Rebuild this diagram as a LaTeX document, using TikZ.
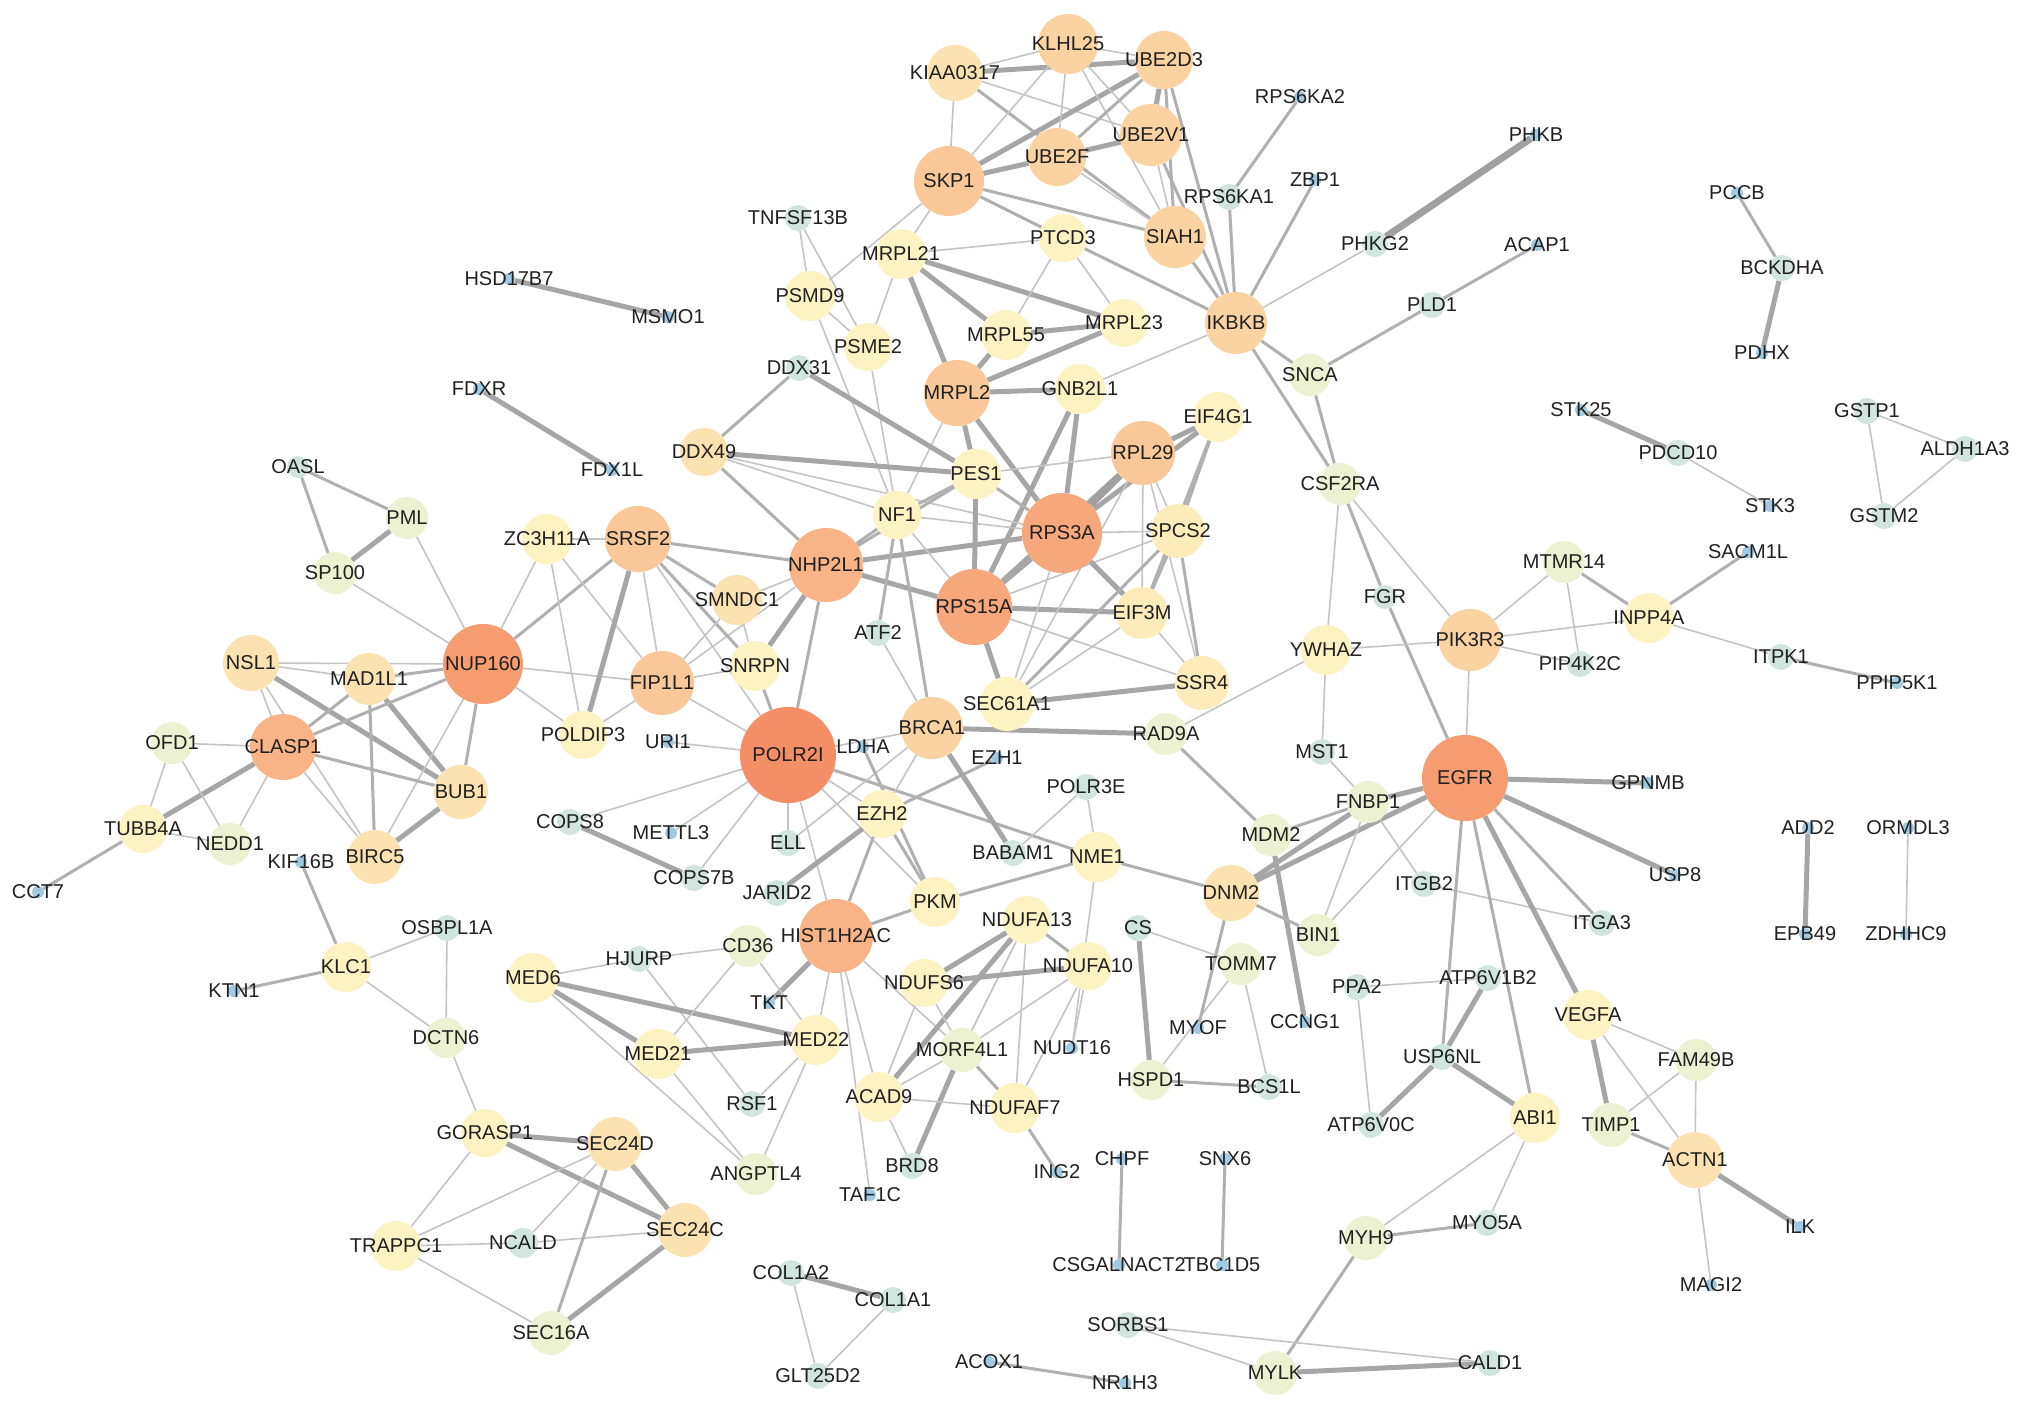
\documentclass[tikz,border=0pt]{standalone}
\usepackage{fontspec}
\setmainfont{Liberation Sans}
\pgfdeclarelayer{bglayer}
\pgfdeclarelayer{edgelayer}
\pgfsetlayers{bglayer,edgelayer,main}
\definecolor{co1}{RGB}{244,142,102}
\definecolor{co1b}{RGB}{245,156,113}
\definecolor{co2}{RGB}{246,168,124}
\definecolor{co3}{RGB}{248,180,134}
\definecolor{co4}{RGB}{250,199,152}
\definecolor{co5}{RGB}{251,210,162}
\definecolor{co6}{RGB}{252,226,176}
\definecolor{co6b}{RGB}{253,235,186}
\definecolor{co7}{RGB}{253,242,194}
\definecolor{co8}{RGB}{236,242,209}
\definecolor{co9}{RGB}{208,229,222}
\definecolor{co10}{RGB}{160,202,226}
\definecolor{labc}{RGB}{32,32,32}
\definecolor{eA}{RGB}{196,196,196}
\definecolor{eB}{RGB}{176,176,176}
\definecolor{eC}{RGB}{166,166,166}
\definecolor{eD}{RGB}{160,160,160}
\tikzset{
  gnode/.style={circle, draw=none, inner sep=0pt},
  glab/.style={font=\fontsize{20}{22}\selectfont, text=labc, inner sep=0pt},
  ea/.style={line width=1.6pt, draw=eA},
  eb/.style={line width=3pt, draw=eB},
  ec/.style={line width=5pt, draw=eC},
  ed/.style={line width=7pt, draw=eD},
}
\newcommand\GN[5]{}
\newcommand\drawgnode[5]{\node[gnode, fill=#5, minimum size=#4*2pt] (#1) at (#2,#3) {};}
\newcommand\drawglabel[5]{\node[glab] (#1-l) at (#1) {#1};}
\newcommand\GE[3]{\draw[#3] (#1) -- (#2);}
\newcommand\nodelist{%
\GN{POLR2I}{788}{755}{48}{co1}
\GN{EGFR}{1465}{778}{43}{co1b}
\GN{NUP160}{483}{664}{40}{co1b}
\GN{RPS3A}{1062}{533}{40}{co2}
\GN{RPS15A}{974}{607}{38}{co2}
\GN{NHP2L1}{826}{565}{37}{co3}
\GN{HIST1H2AC}{836}{936}{37}{co3}
\GN{SKP1}{949}{181}{35}{co4}
\GN{CLASP1}{283}{747}{33}{co3}
\GN{SRSF2}{638}{539}{33}{co4}
\GN{FIP1L1}{662}{683}{32}{co4}
\GN{RPL29}{1143}{453}{32}{co4}
\GN{MRPL2}{957}{393}{33}{co4}
\GN{PIK3R3}{1470}{640}{31}{co5}
\GN{IKBKB}{1236}{323}{31}{co5}
\GN{SIAH1}{1175}{237}{31}{co5}
\GN{UBE2V1}{1151}{135}{31}{co5}
\GN{UBE2D3}{1164}{60}{29}{co5}
\GN{KLHL25}{1068}{44}{30}{co5}
\GN{UBE2F}{1057}{157}{29}{co5}
\GN{KIAA0317}{955}{73}{28}{co6}
\GN{BRCA1}{932}{728}{31}{co5}
\GN{ACTN1}{1695}{1160}{28}{co6}
\GN{DNM2}{1231}{893}{28}{co6}
\GN{NSL1}{251}{663}{28}{co6}
\GN{MAD1L1}{369}{679}{26}{co6}
\GN{BUB1}{461}{792}{27}{co6}
\GN{BIRC5}{375}{857}{27}{co6}
\GN{SEC24D}{615}{1144}{27}{co6}
\GN{SEC24C}{685}{1230}{27}{co6}
\GN{SEC61A1}{1007}{704}{27}{co7}
\GN{SPCS2}{1178}{531}{27}{co6b}
\GN{EIF3M}{1142}{613}{26}{co6b}
\GN{SSR4}{1202}{683}{27}{co6b}
\GN{DDX49}{704}{452}{24}{co6}
\GN{SMNDC1}{737}{600}{25}{co6}
\GN{EIF4G1}{1218}{417}{25}{co7}
\GN{GNB2L1}{1080}{389}{25}{co7}
\GN{MRPL23}{1124}{323}{24}{co7}
\GN{MRPL55}{1006}{335}{25}{co7}
\GN{PTCD3}{1063}{238}{24}{co7}
\GN{MRPL21}{901}{254}{25}{co7}
\GN{PSMD9}{810}{296}{25}{co7}
\GN{PSME2}{868}{347}{24}{co7}
\GN{PES1}{976}{474}{25}{co7}
\GN{NF1}{897}{515}{24}{co7}
\GN{SNRPN}{755}{666}{25}{co7}
\GN{ZC3H11A}{547}{539}{25}{co7}
\GN{POLDIP3}{583}{735}{24}{co7}
\GN{EZH2}{882}{814}{24}{co7}
\GN{PKM}{935}{902}{25}{co7}
\GN{NME1}{1097}{857}{25}{co7}
\GN{NDUFA13}{1027}{920}{24}{co7}
\GN{NDUFA10}{1088}{966}{24}{co7}
\GN{NDUFS6}{924}{983}{24}{co7}
\GN{MORF4L1}{962}{1050}{22}{co8}
\GN{ACAD9}{879}{1097}{25}{co7}
\GN{NDUFAF7}{1015}{1108}{25}{co7}
\GN{MED22}{816}{1040}{25}{co7}
\GN{MED21}{658}{1054}{25}{co7}
\GN{MED6}{533}{978}{25}{co7}
\GN{VEGFA}{1588}{1015}{25}{co7}
\GN{ABI1}{1535}{1118}{25}{co7}
\GN{TIMP1}{1611}{1125}{22}{co8}
\GN{FAM49B}{1696}{1060}{21}{co8}
\GN{YWHAZ}{1326}{650}{25}{co7}
\GN{INPP4A}{1649}{618}{25}{co7}
\GN{TUBB4A}{143}{829}{24}{co7}
\GN{NEDD1}{230}{844}{21}{co8}
\GN{OFD1}{172}{743}{21}{co8}
\GN{PML}{407}{518}{21}{co8}
\GN{SP100}{335}{573}{21}{co8}
\GN{KLC1}{346}{967}{25}{co7}
\GN{DCTN6}{446}{1038}{20}{co8}
\GN{GORASP1}{485}{1133}{24}{co7}
\GN{TRAPPC1}{396}{1246}{25}{co7}
\GN{SEC16A}{551}{1333}{22}{co8}
\GN{CD36}{748}{946}{21}{co8}
\GN{ANGPTL4}{756}{1174}{21}{co8}
\GN{HSPD1}{1151}{1080}{20}{co8}
\GN{TOMM7}{1241}{964}{21}{co8}
\GN{BIN1}{1318}{935}{21}{co8}
\GN{MDM2}{1271}{835}{21}{co8}
\GN{FNBP1}{1368}{802}{21}{co8}
\GN{RAD9A}{1166}{734}{21}{co8}
\GN{CSF2RA}{1340}{484}{21}{co8}
\GN{SNCA}{1310}{375}{21}{co8}
\GN{MTMR14}{1564}{562}{21}{co8}
\GN{MYH9}{1366}{1238}{22}{co8}
\GN{MYLK}{1275}{1373}{22}{co8}
\GN{OASL}{298}{467}{11}{co9}
\GN{OSBPL1A}{447}{928}{13}{co9}
\GN{NCALD}{523}{1243}{15}{co9}
\GN{HJURP}{639}{959}{13}{co9}
\GN{RSF1}{752}{1104}{13}{co9}
\GN{BRD8}{912}{1166}{13}{co9}
\GN{COL1A2}{791}{1273}{13}{co9}
\GN{COL1A1}{893}{1300}{13}{co9}
\GN{GLT25D2}{818}{1376}{13}{co9}
\GN{SORBS1}{1128}{1325}{13}{co9}
\GN{CALD1}{1490}{1363}{13}{co9}
\GN{MYO5A}{1487}{1223}{13}{co9}
\GN{BCS1L}{1269}{1087}{13}{co9}
\GN{CS}{1138}{928}{13}{co9}
\GN{MST1}{1322}{752}{13}{co9}
\GN{ITGB2}{1424}{884}{13}{co9}
\GN{POLR3E}{1086}{787}{13}{co9}
\GN{BABAM1}{1013}{853}{13}{co9}
\GN{FGR}{1385}{597}{12}{co9}
\GN{RPS6KA1}{1229}{197}{13}{co9}
\GN{PHKG2}{1375}{244}{13}{co9}
\GN{PLD1}{1432}{305}{13}{co9}
\GN{TNFSF13B}{798}{218}{13}{co9}
\GN{DDX31}{799}{368}{13}{co9}
\GN{ATF2}{878}{633}{13}{co9}
\GN{ELL}{788}{843}{13}{co9}
\GN{COPS8}{570}{822}{13}{co9}
\GN{COPS7B}{694}{878}{13}{co9}
\GN{JARID2}{777}{893}{13}{co9}
\GN{ITGA3}{1602}{923}{13}{co9}
\GN{PIP4K2C}{1580}{664}{13}{co9}
\GN{ITPK1}{1781}{657}{13}{co9}
\GN{PDCD10}{1678}{453}{13}{co9}
\GN{GSTP1}{1867}{411}{13}{co9}
\GN{ALDH1A3}{1965}{449}{13}{co9}
\GN{GSTM2}{1884}{516}{13}{co9}
\GN{BCKDHA}{1782}{268}{13}{co9}
\GN{PPA2}{1357}{987}{13}{co9}
\GN{ATP6V1B2}{1488}{978}{13}{co9}
\GN{USP6NL}{1442}{1057}{13}{co9}
\GN{ATP6V0C}{1371}{1125}{13}{co9}
\GN{KTN1}{234}{991}{6}{co10}
\GN{KIF16B}{301}{862}{6}{co10}
\GN{CCT7}{38}{892}{6}{co10}
\GN{HSD17B7}{509}{279}{6}{co10}
\GN{MSMO1}{668}{317}{6}{co10}
\GN{FDXR}{479}{389}{6}{co10}
\GN{FDX1L}{612}{470}{6}{co10}
\GN{URI1}{668}{742}{6}{co10}
\GN{LDHA}{863}{747}{6}{co10}
\GN{EZH1}{997}{758}{6}{co10}
\GN{METTL3}{671}{833}{6}{co10}
\GN{TKT}{769}{1003}{6}{co10}
\GN{TAF1C}{870}{1195}{6}{co10}
\GN{ING2}{1057}{1172}{6}{co10}
\GN{NUDT16}{1072}{1048}{6}{co10}
\GN{ACOX1}{989}{1362}{6}{co10}
\GN{NR1H3}{1125}{1383}{6}{co10}
\GN{CHPF}{1122}{1159}{6}{co10}
\GN{CSGALNACT2}{1119}{1265}{6}{co10}
\GN{SNX6}{1225}{1159}{6}{co10}
\GN{TBC1D5}{1222}{1265}{6}{co10}
\GN{MYOF}{1198}{1028}{6}{co10}
\GN{CCNG1}{1305}{1022}{6}{co10}
\GN{RPS6KA2}{1300}{97}{6}{co10}
\GN{ZBP1}{1315}{180}{6}{co10}
\GN{PHKB}{1536}{135}{6}{co10}
\GN{ACAP1}{1537}{245}{6}{co10}
\GN{GPNMB}{1648}{783}{6}{co10}
\GN{USP8}{1675}{875}{6}{co10}
\GN{SACM1L}{1748}{552}{6}{co10}
\GN{PPIP5K1}{1897}{683}{6}{co10}
\GN{STK25}{1581}{410}{6}{co10}
\GN{STK3}{1770}{506}{6}{co10}
\GN{PCCB}{1737}{193}{6}{co10}
\GN{PDHX}{1762}{353}{6}{co10}
\GN{ADD2}{1808}{828}{6}{co10}
\GN{EPB49}{1805}{934}{6}{co10}
\GN{ORMDL3}{1908}{828}{6}{co10}
\GN{ZDHHC9}{1906}{934}{6}{co10}
\GN{MAGI2}{1711}{1285}{6}{co10}
\GN{ILK}{1800}{1227}{6}{co10}
}
\begin{document}
\begin{tikzpicture}[x=1pt,y=-1pt]
\begin{pgfonlayer}{bglayer}
\fill[white] (0,0) rectangle (2032,1411);
\end{pgfonlayer}
\useasboundingbox (0,0) rectangle (2032,1411);
% nodes
\let\GN\drawgnode
\nodelist
% edges
\begin{pgfonlayer}{edgelayer}
\GE{KIAA0317}{SKP1}{ea}
\GE{KIAA0317}{KLHL25}{ea}
\GE{KIAA0317}{UBE2D3}{ec}
\GE{KIAA0317}{SIAH1}{eb}
\GE{KIAA0317}{UBE2V1}{ea}
\GE{SKP1}{KLHL25}{ea}
\GE{SKP1}{UBE2D3}{ec}
\GE{SKP1}{UBE2F}{ec}
\GE{UBE2F}{UBE2V1}{ec}
\GE{SKP1}{SIAH1}{eb}
\GE{SKP1}{PTCD3}{eb}
\GE{SKP1}{MRPL21}{ea}
\GE{SKP1}{PSMD9}{ea}
\GE{KLHL25}{UBE2D3}{ea}
\GE{KLHL25}{UBE2F}{ea}
\GE{KLHL25}{UBE2V1}{ea}
\GE{KLHL25}{SIAH1}{ea}
\GE{UBE2D3}{UBE2F}{eb}
\GE{UBE2D3}{UBE2V1}{ec}
\GE{UBE2D3}{SIAH1}{eb}
\GE{UBE2D3}{IKBKB}{eb}
\GE{UBE2V1}{SIAH1}{ea}
\GE{UBE2V1}{IKBKB}{eb}
\GE{UBE2F}{SIAH1}{ea}
\GE{SIAH1}{IKBKB}{eb}
\GE{PTCD3}{IKBKB}{eb}
\GE{MRPL21}{PTCD3}{ea}
\GE{MRPL21}{MRPL23}{ec}
\GE{MRPL21}{MRPL55}{ec}
\GE{MRPL21}{MRPL2}{ec}
\GE{MRPL21}{PSME2}{ea}
\GE{PTCD3}{MRPL55}{ea}
\GE{PTCD3}{MRPL23}{ea}
\GE{MRPL55}{MRPL23}{ec}
\GE{MRPL2}{MRPL23}{ec}
\GE{MRPL2}{MRPL55}{ec}
\GE{MRPL2}{GNB2L1}{ec}
\GE{MRPL2}{PES1}{ec}
\GE{MRPL2}{RPS3A}{ec}
\GE{MRPL2}{NF1}{ea}
\GE{GNB2L1}{IKBKB}{ea}
\GE{GNB2L1}{RPS15A}{ec}
\GE{GNB2L1}{RPS3A}{ec}
\GE{PSMD9}{TNFSF13B}{ea}
\GE{PSME2}{TNFSF13B}{ea}
\GE{PSMD9}{PSME2}{ea}
\GE{PSMD9}{NF1}{ea}
\GE{PSME2}{NF1}{ea}
\GE{DDX31}{DDX49}{eb}
\GE{DDX31}{PES1}{ec}
\GE{DDX49}{PES1}{ec}
\GE{DDX49}{NHP2L1}{eb}
\GE{DDX49}{NF1}{ea}
\GE{DDX49}{RPS3A}{ea}
\GE{NHP2L1}{NF1}{eb}
\GE{NHP2L1}{PES1}{eb}
\GE{NHP2L1}{RPS3A}{ec}
\GE{NHP2L1}{RPS15A}{ec}
\GE{NHP2L1}{POLR2I}{eb}
\GE{NHP2L1}{SNRPN}{ec}
\GE{NHP2L1}{SMNDC1}{ea}
\GE{NHP2L1}{FIP1L1}{ea}
\GE{NHP2L1}{SRSF2}{eb}
\GE{NF1}{PES1}{eb}
\GE{NF1}{ATF2}{eb}
\GE{NF1}{BRCA1}{eb}
\GE{NF1}{RPS15A}{ea}
\GE{NF1}{RPS3A}{ea}
\GE{ATF2}{BRCA1}{ea}
\GE{PES1}{RPS15A}{ec}
\GE{PES1}{RPS3A}{eb}
\GE{PES1}{RPL29}{ea}
\GE{RPS15A}{RPS3A}{ec}
\GE{RPS15A}{SEC61A1}{ec}
\GE{RPS15A}{EIF3M}{ec}
\GE{RPS15A}{RPL29}{ec}
\GE{RPS15A}{SPCS2}{ea}
\GE{RPS15A}{SSR4}{ea}
\GE{RPS3A}{RPL29}{ed}
\GE{RPS3A}{EIF4G1}{ec}
\GE{RPS3A}{SPCS2}{ea}
\GE{RPS3A}{EIF3M}{ec}
\GE{RPS3A}{SEC61A1}{ea}
\GE{RPL29}{EIF4G1}{ec}
\GE{RPL29}{SPCS2}{ea}
\GE{RPL29}{EIF3M}{ea}
\GE{RPL29}{SSR4}{ea}
\GE{RPL29}{SEC61A1}{ea}
\GE{EIF4G1}{EIF3M}{eb}
\GE{EIF4G1}{SPCS2}{eb}
\GE{SPCS2}{SSR4}{eb}
\GE{SPCS2}{SEC61A1}{eb}
\GE{SPCS2}{EIF3M}{eb}
\GE{EIF3M}{SSR4}{ea}
\GE{SEC61A1}{SSR4}{ec}
\GE{SEC61A1}{EIF3M}{ea}
\GE{OASL}{PML}{eb}
\GE{OASL}{SP100}{eb}
\GE{PML}{SP100}{ec}
\GE{PML}{NUP160}{ea}
\GE{SP100}{NUP160}{ea}
\GE{NSL1}{NUP160}{ea}
\GE{NSL1}{MAD1L1}{ea}
\GE{NSL1}{BUB1}{ec}
\GE{NSL1}{CLASP1}{ea}
\GE{NSL1}{BIRC5}{ea}
\GE{MAD1L1}{NUP160}{eb}
\GE{MAD1L1}{CLASP1}{eb}
\GE{MAD1L1}{BUB1}{ec}
\GE{MAD1L1}{BIRC5}{eb}
\GE{NUP160}{CLASP1}{eb}
\GE{NUP160}{BUB1}{eb}
\GE{NUP160}{BIRC5}{ea}
\GE{CLASP1}{OFD1}{ea}
\GE{CLASP1}{BUB1}{eb}
\GE{CLASP1}{BIRC5}{ea}
\GE{CLASP1}{TUBB4A}{ec}
\GE{CLASP1}{NEDD1}{ea}
\GE{OFD1}{TUBB4A}{ea}
\GE{OFD1}{NEDD1}{ea}
\GE{TUBB4A}{NEDD1}{ea}
\GE{TUBB4A}{CCT7}{eb}
\GE{BUB1}{BIRC5}{ec}
\GE{NUP160}{ZC3H11A}{ea}
\GE{NUP160}{SRSF2}{eb}
\GE{NUP160}{FIP1L1}{ea}
\GE{NUP160}{POLDIP3}{ea}
\GE{KIF16B}{KLC1}{eb}
\GE{KLC1}{KTN1}{eb}
\GE{KLC1}{OSBPL1A}{ea}
\GE{KLC1}{DCTN6}{ea}
\GE{OSBPL1A}{DCTN6}{ea}
\GE{DCTN6}{GORASP1}{ea}
\GE{ZC3H11A}{SRSF2}{ea}
\GE{ZC3H11A}{FIP1L1}{ea}
\GE{ZC3H11A}{POLDIP3}{ea}
\GE{SRSF2}{FIP1L1}{ea}
\GE{SRSF2}{POLDIP3}{ec}
\GE{SRSF2}{SMNDC1}{eb}
\GE{SRSF2}{SNRPN}{eb}
\GE{SRSF2}{POLR2I}{ea}
\GE{FIP1L1}{POLDIP3}{ea}
\GE{FIP1L1}{SNRPN}{ea}
\GE{FIP1L1}{SMNDC1}{ea}
\GE{FIP1L1}{POLR2I}{ea}
\GE{SMNDC1}{SNRPN}{ea}
\GE{SNRPN}{POLR2I}{eb}
\GE{URI1}{POLR2I}{ea}
\GE{POLR2I}{COPS8}{ea}
\GE{POLR2I}{METTL3}{ea}
\GE{POLR2I}{COPS7B}{ea}
\GE{POLR2I}{ELL}{ea}
\GE{POLR2I}{HIST1H2AC}{ea}
\GE{POLR2I}{EZH2}{ea}
\GE{POLR2I}{PKM}{ea}
\GE{POLR2I}{NME1}{eb}
\GE{POLR2I}{BRCA1}{ea}
\GE{COPS8}{COPS7B}{ec}
\GE{ELL}{BRCA1}{ea}
\GE{JARID2}{EZH2}{ec}
\GE{EZH2}{EZH1}{eb}
\GE{EZH2}{PKM}{eb}
\GE{EZH2}{BRCA1}{ea}
\GE{EZH2}{HIST1H2AC}{eb}
\GE{HIST1H2AC}{PKM}{eb}
\GE{LDHA}{PKM}{eb}
\GE{BRCA1}{RAD9A}{ec}
\GE{BRCA1}{BABAM1}{ec}
\GE{POLR3E}{NME1}{ea}
\GE{POLR3E}{BABAM1}{ea}
\GE{NME1}{NUDT16}{ea}
\GE{PKM}{NME1}{eb}
\GE{DNM2}{NME1}{eb}
\GE{HIST1H2AC}{TKT}{ec}
\GE{HIST1H2AC}{MED22}{ea}
\GE{HIST1H2AC}{ACAD9}{ea}
\GE{HIST1H2AC}{TAF1C}{ea}
\GE{HIST1H2AC}{MORF4L1}{ea}
\GE{NDUFA13}{NDUFA10}{eb}
\GE{NDUFA13}{NDUFS6}{ec}
\GE{NDUFA13}{ACAD9}{ec}
\GE{NDUFA13}{NDUFAF7}{ea}
\GE{NDUFA13}{MORF4L1}{ea}
\GE{NDUFA10}{NDUFS6}{ec}
\GE{NDUFA10}{MORF4L1}{ea}
\GE{NDUFA10}{NDUFAF7}{ea}
\GE{NDUFA10}{NUDT16}{ea}
\GE{NDUFS6}{MORF4L1}{ea}
\GE{NDUFS6}{ACAD9}{ea}
\GE{MORF4L1}{BRD8}{ec}
\GE{MORF4L1}{ACAD9}{ea}
\GE{MORF4L1}{NDUFAF7}{eb}
\GE{ACAD9}{NDUFAF7}{ea}
\GE{ACAD9}{BRD8}{ea}
\GE{NDUFAF7}{ING2}{eb}
\GE{MED6}{HJURP}{ea}
\GE{HJURP}{CD36}{ea}
\GE{HJURP}{RSF1}{ea}
\GE{MED6}{MED22}{ec}
\GE{MED6}{MED21}{ec}
\GE{MED6}{ANGPTL4}{ea}
\GE{MED21}{MED22}{ec}
\GE{MED21}{CD36}{ea}
\GE{MED21}{ANGPTL4}{ea}
\GE{MED22}{RSF1}{ea}
\GE{MED22}{ANGPTL4}{ea}
\GE{CD36}{MED22}{ea}
\GE{GORASP1}{SEC24D}{ec}
\GE{GORASP1}{SEC24C}{ec}
\GE{GORASP1}{TRAPPC1}{ea}
\GE{TRAPPC1}{SEC24D}{ea}
\GE{TRAPPC1}{NCALD}{ea}
\GE{TRAPPC1}{SEC16A}{ea}
\GE{NCALD}{SEC24D}{ea}
\GE{NCALD}{SEC24C}{ea}
\GE{SEC24D}{SEC24C}{ec}
\GE{SEC24D}{SEC16A}{eb}
\GE{SEC24C}{SEC16A}{ec}
\GE{COL1A2}{COL1A1}{ec}
\GE{COL1A2}{GLT25D2}{ea}
\GE{COL1A1}{GLT25D2}{ea}
\GE{CS}{TOMM7}{ea}
\GE{CS}{HSPD1}{ec}
\GE{TOMM7}{HSPD1}{ea}
\GE{TOMM7}{BCS1L}{ea}
\GE{HSPD1}{BCS1L}{eb}
\GE{DNM2}{MYOF}{eb}
\GE{MDM2}{CCNG1}{ec}
\GE{RAD9A}{MDM2}{eb}
\GE{MDM2}{FNBP1}{eb}
\GE{DNM2}{FNBP1}{ec}
\GE{DNM2}{EGFR}{ec}
\GE{DNM2}{BIN1}{eb}
\GE{FNBP1}{BIN1}{ea}
\GE{FNBP1}{ITGB2}{ea}
\GE{FNBP1}{EGFR}{ec}
\GE{EGFR}{BIN1}{ea}
\GE{ITGB2}{ITGA3}{ea}
\GE{EGFR}{GPNMB}{ec}
\GE{EGFR}{USP8}{ec}
\GE{EGFR}{ITGA3}{eb}
\GE{EGFR}{VEGFA}{ec}
\GE{EGFR}{ABI1}{eb}
\GE{EGFR}{USP6NL}{eb}
\GE{EGFR}{PIK3R3}{ea}
\GE{FGR}{EGFR}{eb}
\GE{FGR}{CSF2RA}{eb}
\GE{YWHAZ}{MST1}{ea}
\GE{MST1}{FNBP1}{ea}
\GE{YWHAZ}{RAD9A}{ea}
\GE{YWHAZ}{PIK3R3}{ea}
\GE{YWHAZ}{CSF2RA}{ea}
\GE{CSF2RA}{PIK3R3}{ea}
\GE{PIK3R3}{MTMR14}{ea}
\GE{PIK3R3}{INPP4A}{ea}
\GE{PIK3R3}{PIP4K2C}{ea}
\GE{MTMR14}{INPP4A}{eb}
\GE{MTMR14}{PIP4K2C}{ea}
\GE{INPP4A}{SACM1L}{eb}
\GE{INPP4A}{ITPK1}{ea}
\GE{ITPK1}{PPIP5K1}{eb}
\GE{IKBKB}{SNCA}{eb}
\GE{IKBKB}{CSF2RA}{eb}
\GE{SNCA}{CSF2RA}{eb}
\GE{SNCA}{PLD1}{eb}
\GE{PLD1}{ACAP1}{eb}
\GE{PHKG2}{PHKB}{ed}
\GE{PHKG2}{IKBKB}{ea}
\GE{ZBP1}{IKBKB}{eb}
\GE{RPS6KA1}{IKBKB}{eb}
\GE{RPS6KA1}{RPS6KA2}{eb}
\GE{ATP6V1B2}{PPA2}{ea}
\GE{PPA2}{ATP6V0C}{ea}
\GE{ATP6V0C}{USP6NL}{ec}
\GE{USP6NL}{ATP6V1B2}{ec}
\GE{USP6NL}{ABI1}{ec}
\GE{ABI1}{MYH9}{ea}
\GE{ABI1}{MYO5A}{ea}
\GE{MYH9}{MYO5A}{eb}
\GE{MYH9}{MYLK}{eb}
\GE{MYLK}{CALD1}{ec}
\GE{MYLK}{SORBS1}{ea}
\GE{SORBS1}{CALD1}{ea}
\GE{ACOX1}{NR1H3}{eb}
\GE{CHPF}{CSGALNACT2}{eb}
\GE{SNX6}{TBC1D5}{eb}
\GE{VEGFA}{TIMP1}{ec}
\GE{VEGFA}{FAM49B}{ea}
\GE{VEGFA}{ACTN1}{ea}
\GE{TIMP1}{FAM49B}{ea}
\GE{TIMP1}{ACTN1}{eb}
\GE{FAM49B}{ACTN1}{ea}
\GE{ACTN1}{ILK}{ec}
\GE{ACTN1}{MAGI2}{ea}
\GE{ADD2}{EPB49}{ec}
\GE{ORMDL3}{ZDHHC9}{ea}
\GE{PCCB}{BCKDHA}{eb}
\GE{BCKDHA}{PDHX}{ec}
\GE{STK25}{PDCD10}{ec}
\GE{PDCD10}{STK3}{ea}
\GE{GSTP1}{ALDH1A3}{ea}
\GE{GSTP1}{GSTM2}{ea}
\GE{ALDH1A3}{GSTM2}{ea}
\GE{HSD17B7}{MSMO1}{ec}
\GE{FDXR}{FDX1L}{ec}
\end{pgfonlayer}
% labels
\let\GN\drawglabel
\nodelist
\end{tikzpicture}
\end{document}
